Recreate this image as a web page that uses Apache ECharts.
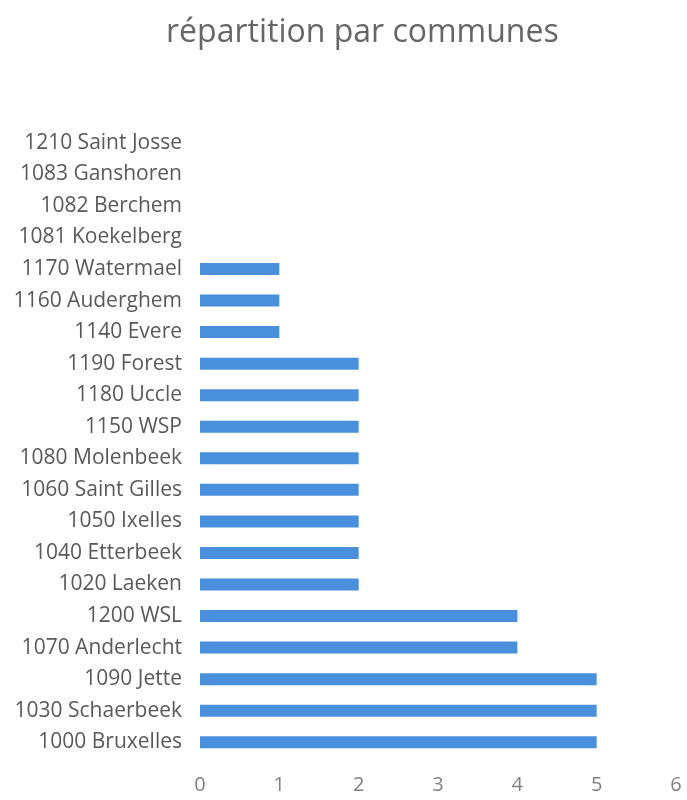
<!DOCTYPE html>
<html>
<head>
<meta charset="utf-8">
<script src="https://cdn.jsdelivr.net/npm/echarts@6/dist/echarts.min.js"></script>
<style>
  html, body { margin: 0; padding: 0; background: #fff; }
  #chart { width: 687px; height: 800px; }
</style>
</head>
<body>
<div id="chart"></div>
<script>
// bottom to top
var communes = [
  "1000 Bruxelles", "1030 Schaerbeek", "1090 Jette", "1070 Anderlecht", "1200 WSL",
  "1020 Laeken", "1040 Etterbeek", "1050 Ixelles", "1060 Saint Gilles", "1080 Molenbeek",
  "1150 WSP", "1180 Uccle", "1190 Forest", "1140 Evere", "1160 Auderghem",
  "1170 Watermael", "1081 Koekelberg", "1082 Berchem", "1083 Ganshoren", "1210 Saint Josse"
];
var nombre = [5, 5, 5, 4, 4, 2, 2, 2, 2, 2, 2, 2, 2, 1, 1, 1, 0, 0, 0, 0];
var xTicks = [0, 1, 2, 3, 4, 5, 6];

var chart = echarts.init(document.getElementById("chart"));
chart.setOption({
  animation: false,
  title: {
    text: "répartition par communes",
    left: 161,
    top: 12,
    textStyle: { fontFamily: "Open Sans", fontSize: 32, fontWeight: "normal", color: "#666" }
  },
  grid: { left: 200, right: 11, top: 127, bottom: 42, containLabel: false },
  xAxis: {
    type: "value",
    min: xTicks[0],
    max: xTicks[xTicks.length - 1],
    interval: 1,
    axisLine: { show: false },
    axisTick: { show: false },
    splitLine: { show: false },
    axisLabel: { fontFamily: "Open Sans", fontSize: 20, color: "#808080", margin: 17 }
  },
  yAxis: {
    type: "category",
    data: communes,
    axisLine: { show: false },
    axisTick: { show: false },
    axisLabel: { fontFamily: "Open Sans", fontSize: 21, color: "#595959", margin: 18 }
  },
  series: [{
    type: "bar",
    data: nombre,
    barWidth: 12,
    itemStyle: { color: "#4a8fdc" }
  }]
});
</script>
</body>
</html>
